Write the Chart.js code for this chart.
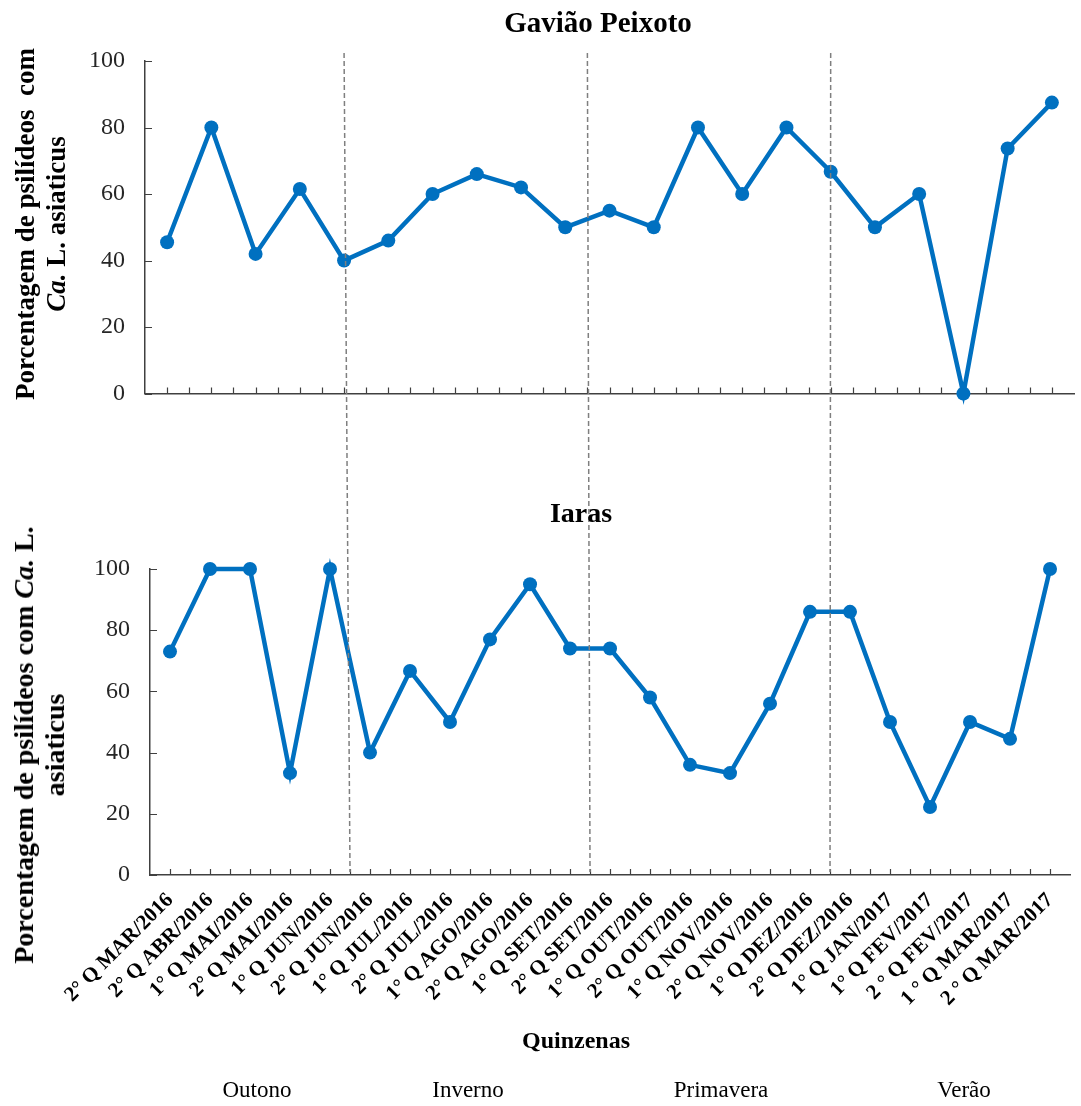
<!DOCTYPE html>
<html lang="pt">
<head>
<meta charset="utf-8">
<title>Porcentagem de psilídeos com Ca. L. asiaticus</title>
<script src="https://cdn.jsdelivr.net/npm/chart.js@4.4.1/dist/chart.umd.min.js"></script>
<style>
  body { margin: 0; background: #fff; }
  #page { position: relative; width: 1081px; height: 1106px; overflow: hidden; font-family: 'Liberation Serif', 'Times New Roman', serif; color: #000; }
  canvas { position: absolute; left: 0; }
  .txt { position: absolute; white-space: nowrap; transform: translate(-50%, -50%); }
  .rot { transform: translate(-50%, -50%) rotate(-90deg); }
  .b { font-weight: bold; }
</style>
</head>
<body>
<div id="page">
  <canvas id="topChart" width="1081" height="428" style="top:0"></canvas>
  <canvas id="bottomChart" width="1081" height="560" style="top:480px"></canvas>
  <canvas id="overlay" width="1081" height="1106" style="top:0"></canvas>

  <div class="txt b" style="left:598px; top:22px; font-size:29px;">Gavião Peixoto</div>
  <div class="txt b" style="left:581px; top:513px; font-size:28px;">Iaras</div>

  <div class="txt rot b" style="left:25px; top:224px; font-size:27px;">Porcentagem de psilídeos&nbsp; com</div>
  <div class="txt rot b" style="left:56px; top:224px; font-size:27px;"><i>Ca.</i> L. asiaticus</div>
  <div class="txt rot b" style="left:24px; top:745px; font-size:28px;">Porcentagem de psilídeos com <i>Ca.</i> L.</div>
  <div class="txt rot b" style="left:55px; top:745px; font-size:28px;">asiaticus</div>

  <div class="txt b" style="left:576px; top:1040px; font-size:24px;">Quinzenas</div>
  <div id="seasons"></div>
</div>
<script>
// quinzenas (eixo x do gráfico de Iaras)
const quinzenas = [
  '2° Q MAR/2016', '2° Q ABR/2016', '1° Q MAI/2016', '2° Q MAI/2016', '1° Q JUN/2016',
  '2° Q JUN/2016', '1° Q JUL/2016', '2° Q JUL/2016', '1° Q AGO/2016', '2° Q AGO/2016',
  '1° Q SET/2016', '2° Q SET/2016', '1° Q OUT/2016', '2° Q OUT/2016', '1° Q NOV/2016',
  '2° Q NOV/2016', '1° Q DEZ/2016', '2° Q DEZ/2016', '1° Q JAN/2017', '1° Q FEV/2017',
  '2 ° Q FEV/2017', '1 ° Q MAR/2017', '2 ° Q MAR/2017'
];
// Gavião Peixoto has 21 sampling points, no visible labels
const quinzenasGaviao = ['1','2','3','4','5','6','7','8','9','10','11','12','13','14','15','16','17','18','19','20','21'];

const gaviaoPeixoto = [45.5, 80, 42, 61.5, 40, 46, 60, 66, 62, 50, 55, 50, 80, 60, 80, 66.7, 50, 60, 0, 73.7, 87.5];
const iaras = [73, 100, 100, 33.3, 100, 40, 66.7, 50, 77, 95, 74, 74, 58, 36, 33.3, 56, 86, 86, 50, 22.2, 50, 44.5, 100];

const yTicks = [0, 20, 40, 60, 80, 100];
const estacoes = ['Outono', 'Inverno', 'Primavera', 'Verão'];
// season dividers, as category positions on each chart
const breaksGaviao = [4, 9.5, 15];
const breaksIaras = [4.5, 10.5, 16.5];

const blue = '#0070C0';
const axisColor = '#404040';
const serif = "'Liberation Serif', 'Times New Roman', serif";

const innerTicks = {
    id: 'innerTicks',
    beforeDatasetsDraw(chart) {
        const { ctx, scales: { x, y } } = chart;
        const n = chart.data.labels.length;
        ctx.save();
        ctx.strokeStyle = axisColor;
        ctx.lineWidth = 1.2;
        ctx.beginPath();
        for (let v = 0; v <= n - 1; v += 0.5) {
            const px = Math.round(x.getPixelForValue(v)) + 0.5;
            ctx.moveTo(px, x.top);
            ctx.lineTo(px, x.top - 6);
        }
        yTicks.forEach(t => {
            const py = Math.round(y.getPixelForValue(t)) + 0.5;
            ctx.moveTo(y.right, py);
            ctx.lineTo(y.right + 7, py);
        });
        ctx.stroke();
        ctx.restore();
    }
};

function makeChart(id, labels, values, opts) {
    return new Chart(document.getElementById(id), {
        type: 'line',
        data: {
            labels: labels,
            datasets: [{
                data: values,
                borderColor: blue,
                backgroundColor: blue,
                borderWidth: 4.5,
                pointRadius: 7,
                pointBorderWidth: 0,
                pointBackgroundColor: blue,
                tension: 0,
                clip: false
            }]
        },
        options: {
            responsive: false,
            animation: false,
            events: [],
            layout: { padding: opts.padding },
            plugins: { legend: { display: false }, tooltip: { enabled: false } },
            scales: {
                x: {
                    offset: true,
                    grid: { display: false, drawTicks: false },
                    border: { display: true, color: axisColor, width: 1.5 },
                    ticks: {
                        display: opts.showX,
                        autoSkip: false,
                        minRotation: 45,
                        maxRotation: 45,
                        padding: 13,
                        color: '#000',
                        font: { family: serif, size: 21, weight: 'bold' }
                    },
                    afterFit: s => { s.height = opts.xHeight; }
                },
                y: {
                    min: 0,
                    max: 100,
                    grid: { display: false, drawTicks: false },
                    border: { display: true, color: axisColor, width: 1.5 },
                    ticks: {
                        stepSize: 20,
                        padding: 20,
                        color: '#262626',
                        font: { family: serif, size: 24 }
                    },
                    afterFit: s => { s.width = opts.yWidth; }
                }
            }
        },
        plugins: [innerTicks]
    });
}

const topChart = makeChart('topChart', quinzenasGaviao, gaviaoPeixoto, {
    padding: { top: 61, right: 6, left: 0, bottom: 0 },
    showX: false, xHeight: 19, yWidth: 145
});
const bottomChart = makeChart('bottomChart', quinzenas, iaras, {
    padding: { top: 89, right: 0, left: 0, bottom: 0 },
    showX: true, xHeight: 165, yWidth: 150
});

// dashed season dividers spanning both panels
(function drawDividers() {
    const ctx = document.getElementById('overlay').getContext('2d');
    const yTop = topChart.chartArea.top - 8;
    const yBot = 480 + bottomChart.chartArea.bottom - 3;
    ctx.strokeStyle = '#7f7f7f';
    ctx.lineWidth = 1.5;
    ctx.setLineDash([5, 3]);
    breaksGaviao.forEach((b, i) => {
        const x1 = topChart.scales.x.getPixelForValue(b);
        const x2 = bottomChart.scales.x.getPixelForValue(breaksIaras[i]);
        ctx.beginPath();
        ctx.moveTo(x1, yTop);
        ctx.lineTo(x2, yBot);
        ctx.stroke();
    });
})();

// season names under the axis title
const seasonCenters = [257, 468, 721, 964];
document.getElementById('seasons').innerHTML = estacoes.map((s, i) =>
    `<div class="txt" style="left:${seasonCenters[i]}px; top:1090px; font-size:23px;">${s}</div>`
).join('');
</script>
</body>
</html>
